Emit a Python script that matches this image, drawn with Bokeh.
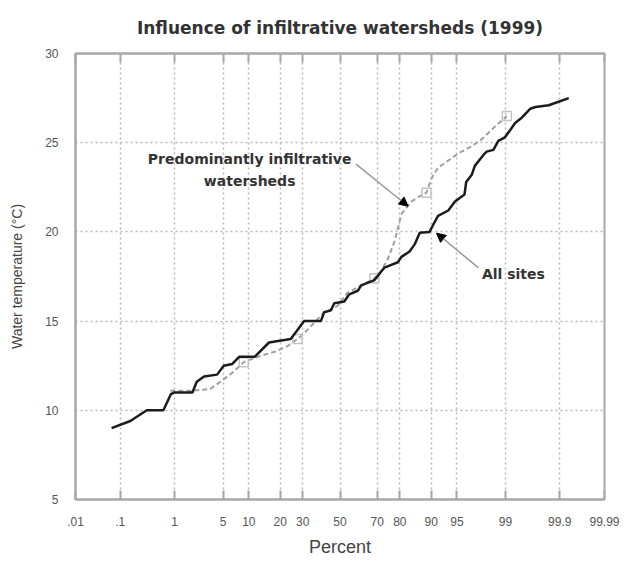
from statistics import NormalDist
from bokeh.plotting import figure
from bokeh.models import (Range1d, FixedTicker, LinearAxis, Arrow, NormalHead, Label)
from bokeh.embed import file_html
from bokeh.resources import INLINE

# ---------------- data ----------------
all_pct = [0.066, 0.16, 0.33, 0.65, 0.87, 1.0, 1.9, 2.2, 2.8, 4.2, 5.1, 6.5, 7.8, 11.5,
           15.9, 24.4, 27.5, 30.7, 39.4, 41.2, 44.9, 46.8, 52.4, 55.2, 59.9, 61.7, 68.6,
           73.4, 79.2, 80.6, 83.6, 85.3, 86.9, 89.6, 90.5, 91.6, 93.6, 94.7, 96.0, 96.2,
           96.8, 97.1, 97.8, 98.04, 98.45, 98.7, 98.98, 99.16, 99.31, 99.47, 99.625,
           99.70, 99.833, 99.935]
all_temp = [9.0, 9.4, 10.0, 10.0, 10.9, 11.0, 11.0, 11.6, 11.9, 12.0, 12.5, 12.6, 13.0, 13.0,
            13.8, 14.0, 14.5, 15.0, 15.0, 15.5, 15.6, 16.0, 16.1, 16.5, 16.7, 17.0, 17.3,
            18.0, 18.3, 18.6, 18.9, 19.3, 19.95, 20.0, 20.4, 20.9, 21.2, 21.7, 22.1, 22.8,
            23.2, 23.7, 24.3, 24.5, 24.6, 25.1, 25.3, 25.7, 26.1, 26.4, 26.9,
            27.0, 27.1, 27.5]

inf_pct = [0.85, 1.76, 2.74, 3.42, 4.64, 6.48, 8.82, 13.2, 18.3, 23.0, 27.5, 30.6, 41.2,
           48.7, 54.3, 61.7, 68.6, 71.9, 75.0, 77.9, 79.2, 80.6, 84.2, 86.9, 88.8, 90.1,
           91.6, 93.6, 95.2, 96.8, 97.7, 98.53, 99.05]
inf_temp = [11.1, 11.1, 11.15, 11.2, 11.6, 12.1, 12.7, 13.05, 13.3, 13.6, 14.0, 14.3, 15.5,
            15.85, 16.6, 17.0, 17.4, 17.8, 18.5, 19.5, 20.2, 21.0, 21.7, 22.0, 22.2, 23.0,
            23.6, 24.0, 24.4, 24.8, 25.2, 25.9, 26.5]

marker_pct = [8.82, 27.5, 68.6, 88.8, 99.05]
marker_temp = [12.7, 14.0, 17.4, 22.2, 26.5]

tick_pct = [0.01, 0.1, 1, 5, 10, 20, 30, 50, 70, 80, 90, 95, 99, 99.9, 99.99]
tick_labels = [".01", ".1", "1", "5", "10", "20", "30", "50", "70", "80", "90", "95",
               "99", "99.9", "99.99"]
y_ticks = [5, 10, 15, 20, 25, 30]

# ---------------- probability transform ----------------
nd = NormalDist()
def z(p):
    return nd.inv_cdf(p / 100.0)

all_z = [z(v) for v in all_pct]
inf_z = [z(v) for v in inf_pct]
mk_z = [z(v) for v in marker_pct]
tick_z = [z(v) for v in tick_pct]

FONT = "Liberation Sans"
BFONT = "DejaVu Sans"
GRID = "#b8b8b8"
AX = "#a8a8a8"

p = figure(width=620, height=563, output_backend="svg", toolbar_location=None,
           x_range=Range1d(tick_z[0], tick_z[-1]), y_range=Range1d(5, 30),
           min_border_left=75, min_border_right=16, min_border_top=52, min_border_bottom=64,
           title="Influence of infiltrative watersheds (1999)")
p.title.align = "center"
p.title.text_font = BFONT
p.title.text_font_size = "17px"
p.title.text_font_style = "bold"
p.title.text_color = "#333333"
p.title.standoff = 31

p.outline_line_color = AX
p.outline_line_width = 2
p.background_fill_color = "white"

# x axis
xa = p.xaxis[0]
xa.ticker = FixedTicker(ticks=tick_z)
xa.major_label_overrides = {t: l for t, l in zip(tick_z, tick_labels)}
xa.axis_label = "Percent"
xa.axis_label_text_font = FONT
xa.axis_label_text_font_size = "18px"
xa.axis_label_text_font_style = "normal"
xa.axis_label_text_color = "#444444"
xa.axis_label_standoff = 8
xa.major_label_text_font = FONT
xa.major_label_text_font_size = "12px"
xa.major_label_text_color = "#555555"
xa.major_label_standoff = 17
xa.major_tick_in = 9
xa.major_tick_out = 0
xa.minor_tick_line_color = None
xa.axis_line_color = AX
xa.axis_line_width = 2
xa.major_tick_line_color = AX
xa.major_tick_line_width = 2

top = LinearAxis(ticker=FixedTicker(ticks=tick_z),
                 major_label_overrides={t: "" for t in tick_z},
                 major_tick_in=9, major_tick_out=0, minor_tick_line_color=None,
                 axis_line_color=AX, axis_line_width=2, major_tick_line_color=AX,
                 major_tick_line_width=2, major_label_standoff=0)
p.add_layout(top, "above")

# y axis
ya = p.yaxis[0]
ya.ticker = FixedTicker(ticks=y_ticks)
ya.axis_label = "Water temperature (°C)"
ya.axis_label_text_font = FONT
ya.axis_label_text_font_size = "14px"
ya.axis_label_text_font_style = "normal"
ya.axis_label_text_color = "#444444"
ya.axis_label_standoff = 17
ya.major_label_text_font = FONT
ya.major_label_text_font_size = "12px"
ya.major_label_text_color = "#555555"
ya.major_label_standoff = 17
ya.major_tick_in = 0
ya.major_tick_out = 0
ya.minor_tick_line_color = None
ya.axis_line_color = AX
ya.axis_line_width = 2

# grids
p.xgrid.ticker = FixedTicker(ticks=tick_z)
p.ygrid.ticker = FixedTicker(ticks=y_ticks)
for g in (p.xgrid[0], p.ygrid[0]):
    g.grid_line_color = GRID
    g.grid_line_dash = "2 3"
    g.grid_line_width = 1.5

# series
p.line(inf_z, inf_temp, line_color="#a0a0a0", line_width=2, line_dash="5 3")
p.scatter(mk_z, marker_temp, marker="square", size=9, fill_color=None,
          line_color="#c4c4c4", line_width=1.5)
p.line(all_z, all_temp, line_color="#1c1c1c", line_width=2.5)

# annotations
p.add_layout(Label(x=z(10.2), y=24.07, text="Predominantly infiltrative",
                   text_align="center", text_baseline="middle", text_font=BFONT,
                   text_font_size="14px", text_font_style="bold", text_color="#333333"))
p.add_layout(Label(x=z(10.2), y=22.84, text="watersheds",
                   text_align="center", text_baseline="middle", text_font=BFONT,
                   text_font_size="14px", text_font_style="bold", text_color="#333333"))
p.add_layout(Label(x=z(97.7), y=17.64, text="All sites",
                   text_align="left", text_baseline="middle", text_font=BFONT,
                   text_font_size="14px", text_font_style="bold", text_color="#333333"))

p.add_layout(Arrow(end=NormalHead(size=9, fill_color="black", line_color="black"),
                   x_start=z(58.9), y_start=23.8, x_end=z(83.1), y_end=21.44,
                   line_color="#999999", line_width=1.5))
p.add_layout(Arrow(end=NormalHead(size=9, fill_color="black", line_color="black"),
                   x_start=z(97.4), y_start=18.0, x_end=z(91.25), y_end=19.93,
                   line_color="#999999", line_width=1.5))

open("out.html", "w").write(file_html(p, INLINE))
